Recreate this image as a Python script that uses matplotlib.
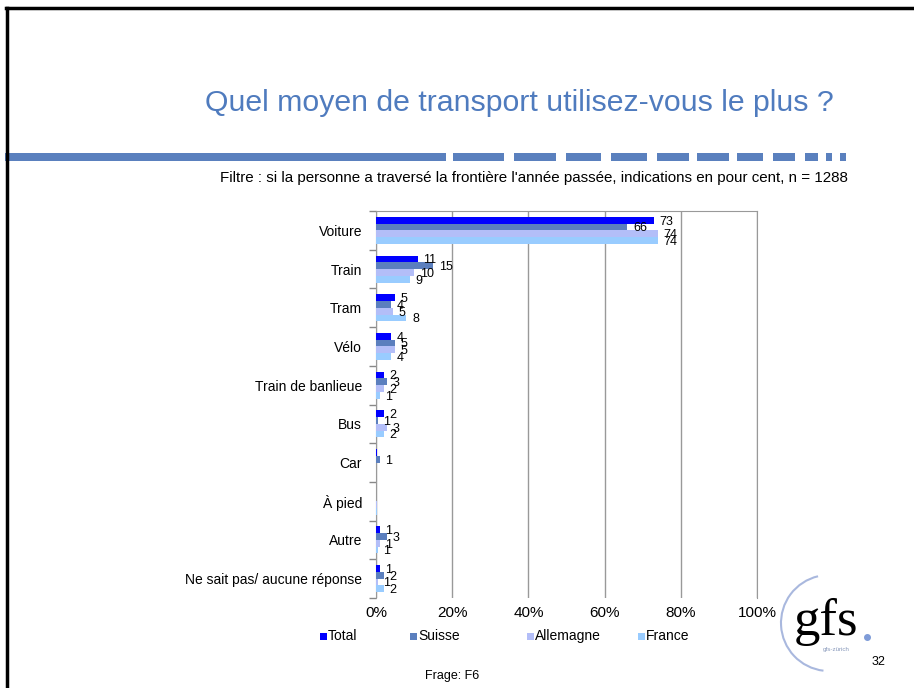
import numpy as np
import matplotlib.pyplot as plt
from matplotlib.patches import Rectangle, Arc

plt.rcParams['font.family'] = ['Liberation Sans', 'DejaVu Sans']

categories = ['Voiture', 'Train', 'Tram', 'Vélo', 'Train de banlieue', 'Bus',
              'Car', 'À pied', 'Autre', 'Ne sait pas/ aucune réponse']
series = ['Total', 'Suisse', 'Allemagne', 'France']
total = [73, 11, 5, 4, 2, 2, 0.3, 0, 1, 1]
suisse = [66, 15, 4, 5, 3, 0.4, 1, 0, 3, 2]
allemagne = [74, 10, 4.5, 5, 2, 3, 0, 0.2, 1, 0.5]
france = [74, 9, 8, 4, 1, 2, 0, 0.2, 0.5, 2]
labels = [
    ['73', '11', '5', '4', '2', '2', '', '', '1', '1'],
    ['66', '15', '4', '5', '3', '1', '1', '', '3', '2'],
    ['74', '10', '5', '5', '2', '3', '', '', '1', '1'],
    ['74', '9', '8', '4', '1', '2', '', '', '1', '2'],
]
colors = ['#0000FF', '#5B7FBE', '#B3BEF8', '#99CCFF']

W, H = 914, 688
fig = plt.figure(figsize=(W / 100, H / 100), dpi=100)

def fx(px):
    return px / W

def fy(py):
    return 1 - py / H

# slide frame
fig.add_artist(plt.Line2D([fx(7), fx(7)], [0, fy(8)], color='black', lw=2.5))
fig.add_artist(plt.Line2D([fx(6), 1], [fy(8), fy(8)], color='black', lw=2.5))

# title
fig.text(fx(205), fy(103), 'Quel moyen de transport utilisez-vous le plus ?',
         color='#4F7BBE', fontsize=21.8, va='center', ha='left')

# dashed band
band = [(5, 446), (453, 504), (514, 556), (566, 601), (611, 647), (657, 689),
        (697, 729), (737, 763), (773, 795), (805, 818), (826, 832), (840, 846)]
for a, b in band:
    fig.add_artist(Rectangle((fx(a), fy(161)), fx(b - a), 8 / H,
                             color='#5A80BE', lw=0))

fig.text(fx(848), fy(178),
         "Filtre : si la personne a traversé la frontière l'année passée, indications en pour cent, n = 1288",
         fontsize=10.9, ha='right', va='center')

ax = fig.add_axes([fx(376), fy(598), fx(757 - 376), (598 - 211) / H])
data = [total, suisse, allemagne, france]
y = np.arange(len(categories))
h = 0.175
for j, (vals, col) in enumerate(zip(data, colors)):
    pos = y + (j - 1.5) * h
    ax.barh(pos, vals, height=h, color=col, zorder=3)
    for p, v, lab in zip(pos, vals, labels[j]):
        if lab:
            ax.annotate(lab, (v, p), xytext=(4, -1), textcoords='offset points',
                        fontsize=9, va='center', ha='left', zorder=4)

ax.set_xlim(0, 100)
ax.set_ylim(len(categories) - 0.5, -0.5)
ax.set_xticks([0, 20, 40, 60, 80, 100])
ax.set_xticklabels(['0%', '20%', '40%', '60%', '80%', '100%'], fontsize=11)
ax.tick_params(axis='x', length=0, pad=6)
ax.set_yticks(y)
ax.set_yticklabels(categories, fontsize=10)
ax.tick_params(axis='y', length=0, pad=10)
ax.set_yticks(np.arange(len(categories) + 1) - 0.5, minor=True)
ax.tick_params(axis='y', which='minor', length=5, color='#888888', width=1)
ax.grid(axis='x', color='#999999', lw=1, zorder=0)
for s in ['left', 'top', 'right']:
    ax.spines[s].set_color('#999999')
ax.spines['bottom'].set_visible(False)

# legend, laid out like the slide
legend_x = [320, 410, 527, 638]
for lx, name, col in zip(legend_x, series, colors):
    fig.add_artist(Rectangle((fx(lx), fy(640)), fx(7), 7 / H, color=col, lw=0))
    fig.text(fx(lx + 8), fy(636), name, fontsize=10, va='center', ha='left')

fig.text(fx(425), fy(676), 'Frage: F6', fontsize=9, va='center')
fig.text(fx(872), fy(662), '32', fontsize=9, va='center')

# gfs logo
fig.add_artist(Arc((fx(829), fy(623)), 96 / W, 96 / H, theta1=100, theta2=265,
                   color='#A9B8DE', lw=1.5))
fig.text(fx(826), fy(622), 'gfs', family=['Liberation Serif', 'DejaVu Serif'],
         fontsize=38, ha='center', va='center')
fig.add_artist(plt.Line2D([fx(867)], [fy(637)], marker='o', ms=4,
                          color='#7F9CD8', lw=0))
fig.text(fx(836), fy(650), 'gfs-zürich', fontsize=4.5, color='#8899BB',
         ha='center', va='center')

fig.savefig('out.png', dpi=100)
